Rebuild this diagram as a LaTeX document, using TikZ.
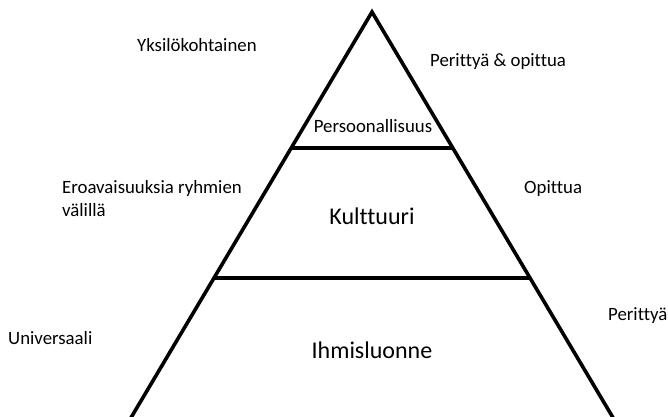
\documentclass[tikz,border=0pt]{standalone}
\usepackage{fontspec}
\setmainfont{Carlito}[Ligatures=NoCommon]
\usetikzlibrary{calc}
\begin{document}
\begin{tikzpicture}[x=1pt,y=-1pt,
  edge/.style={line width=3.6pt},
  label/.style={font=\fontsize{18.8}{23.5}\selectfont, inner sep=0pt},
  big/.style={font=\fontsize{24}{28}\selectfont, inner sep=0pt}]
  \useasboundingbox (0,0) rectangle (668,416);
  % pyramid outline
  \coordinate (apex) at (372,12);
  \coordinate (bl) at (132,416);
  \coordinate (br) at (612,416);
  \coordinate (l1) at (291,148);
  \coordinate (r1) at (453,148);
  \coordinate (l2) at (214,278);
  \coordinate (r2) at (530,278);
  \begin{scope}
    \clip (0,0) rectangle (668,416);
    \draw[edge, line join=miter] ($(bl)!-0.02!(apex)$) -- (apex) -- ($(br)!-0.02!(apex)$);
  \end{scope}
  \draw[edge] (l1) -- (r1);
  \draw[edge] (l2) -- (r2);
  % layer names
  \node[label] (pers) at (373,126) {Persoonallisuus};
  \node[big] (kult) at (372,216) {Kulttuuri};
  \node[big] (ihm) at (372,350) {Ihmisluonne};
  % left-hand descriptions
  \node[label, anchor=west] (yks) at (137,45) {Yksilökohtainen};
  \node[label, anchor=north west, align=left] (ero) at (62,180) {Eroavaisuuksia ryhmien\\välillä};
  \node[label, anchor=west] (uni) at (8,338) {Universaali};
  % right-hand descriptions
  \node[label, anchor=west] (po) at (430,62) {Perittyä \& opittua};
  \node[label, anchor=west] (op) at (524,189) {Opittua};
  \node[label, anchor=west] (per) at (608,316) {Perittyä};
\end{tikzpicture}
\end{document}
